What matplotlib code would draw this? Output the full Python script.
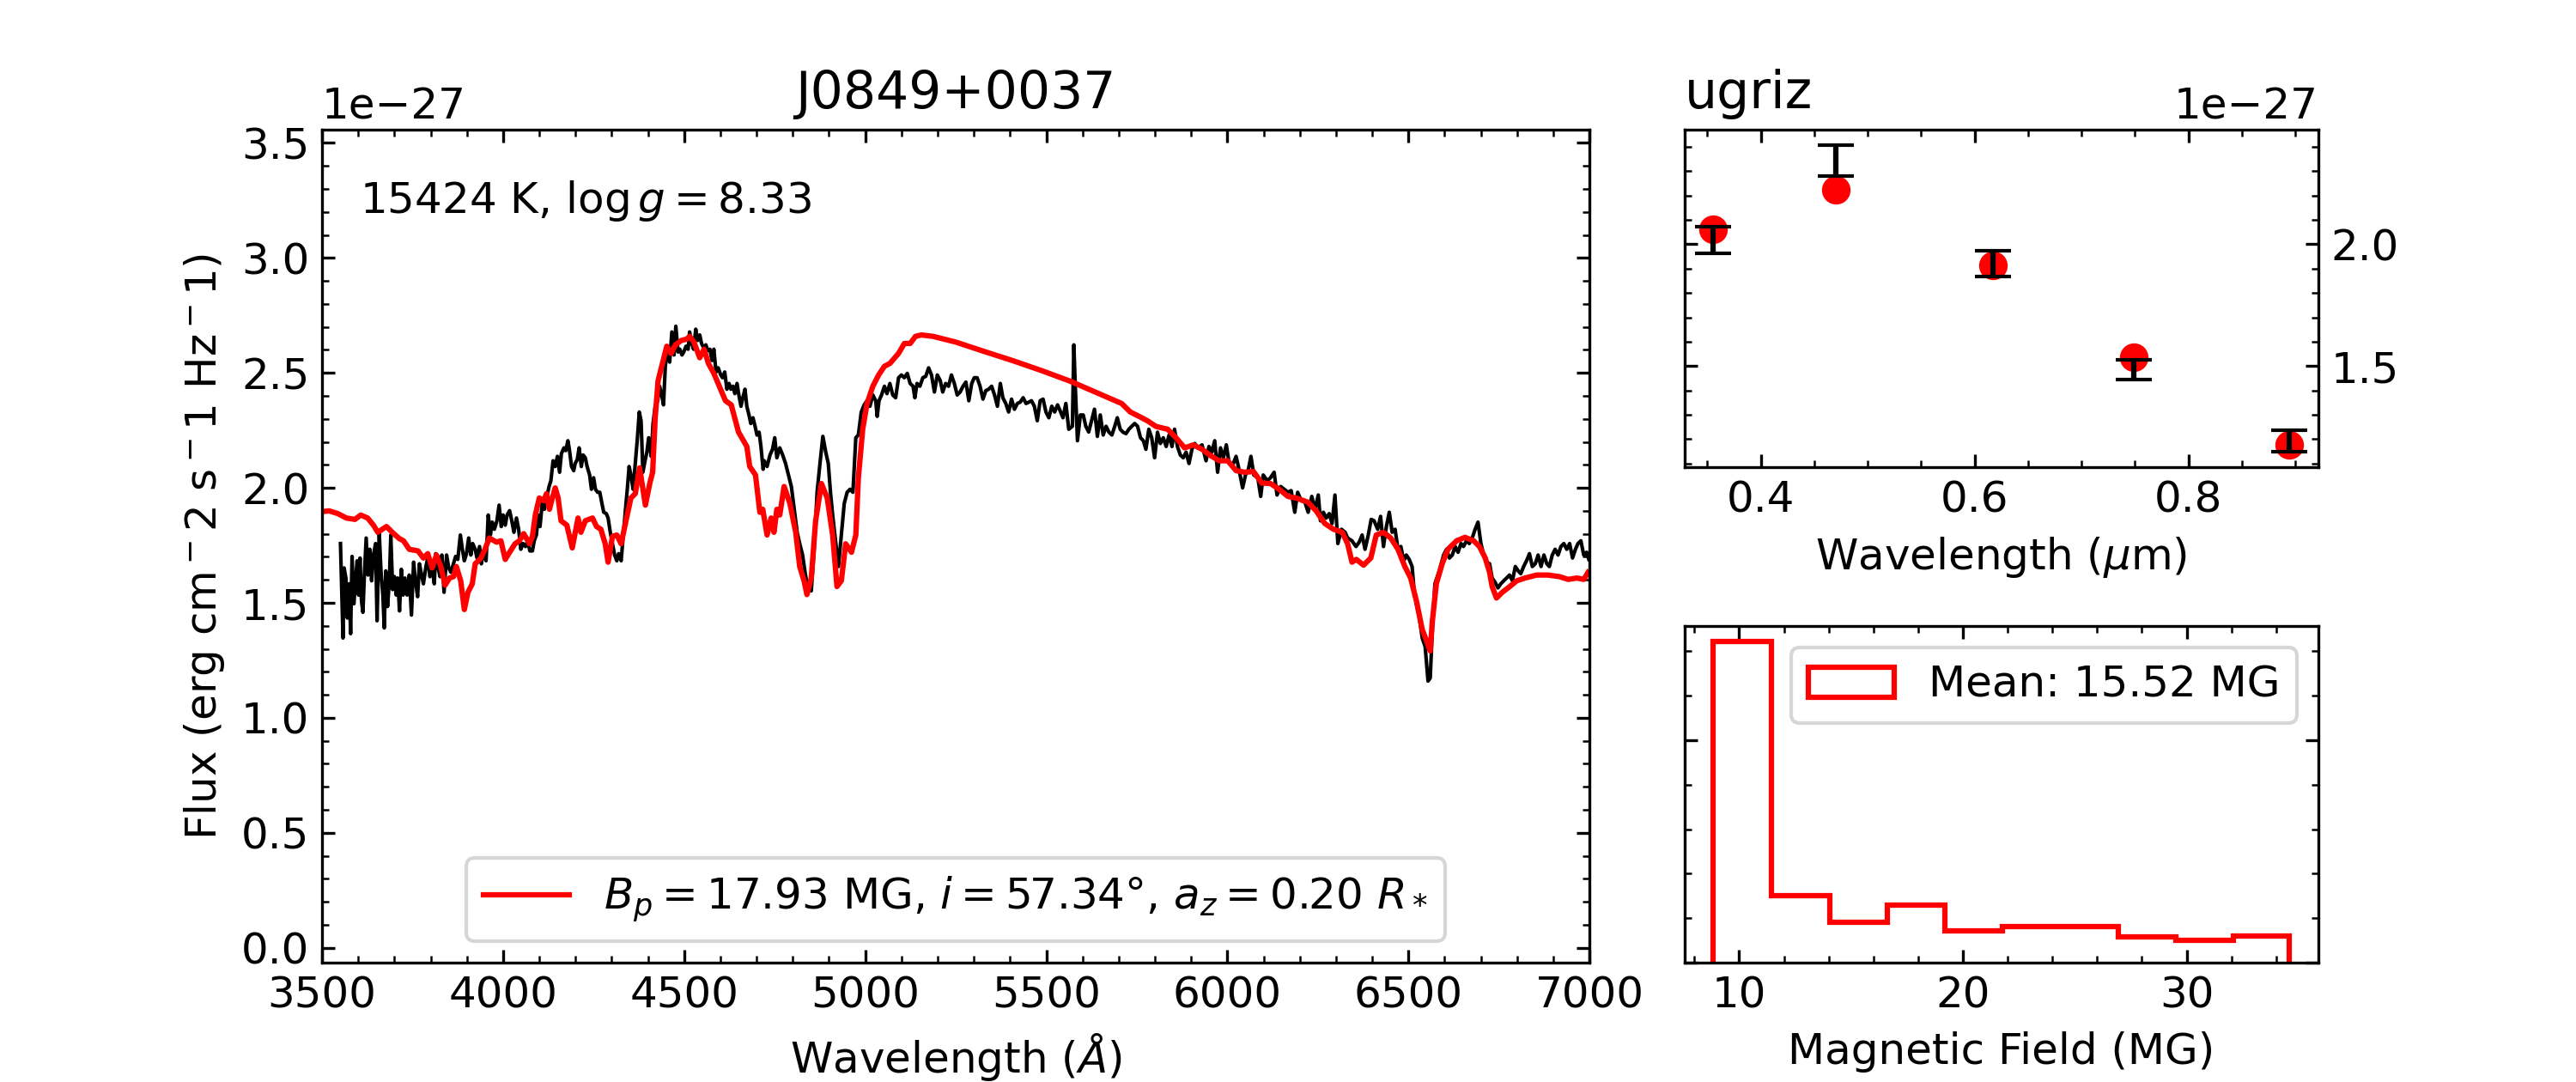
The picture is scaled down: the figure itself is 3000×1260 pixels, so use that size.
import numpy as np
import matplotlib
matplotlib.use('Agg')
import matplotlib.pyplot as plt

plt.rcParams['font.size'] = 12
plt.rcParams['xtick.direction'] = 'in'
plt.rcParams['ytick.direction'] = 'in'
plt.rcParams['xtick.top'] = True
plt.rcParams['ytick.right'] = True
plt.rcParams['xtick.minor.visible'] = True
plt.rcParams['ytick.minor.visible'] = True

UNIT = 1e-27

# observed spectrum (wavelength in A, flux in 1e-27 erg/cm2/s/Hz)
wave_obs = [
    3551, 3558, 3561, 3566, 3570, 3575, 3579, 3583, 3588, 3592, 3597, 3601, 3605, 3609, 3613, 3617,
    3622, 3627, 3632, 3637, 3642, 3648, 3652, 3658, 3663, 3668, 3672, 3676, 3681, 3686, 3690, 3695,
    3700, 3705, 3709, 3714, 3719, 3724, 3729, 3735, 3741, 3747, 3753, 3758, 3764, 3769, 3775, 3780,
    3787, 3792, 3798, 3804, 3810, 3814, 3820, 3826, 3831, 3837, 3844, 3850, 3856, 3863, 3869, 3875,
    3882, 3887, 3893, 3899, 3905, 3911, 3916, 3923, 3928, 3935, 3940, 3946, 3953, 3959, 3965, 3970,
    3976, 3983, 3989, 3995, 4000, 4006, 4011, 4018, 4024, 4030, 4037, 4043, 4049, 4055, 4062, 4068,
    4074, 4081, 4086, 4092, 4097, 4102, 4108, 4114, 4120, 4127, 4132, 4138, 4144, 4150, 4156, 4161,
    4168, 4173, 4179, 4183, 4189, 4195, 4199, 4205, 4210, 4216, 4221, 4227, 4232, 4239, 4244, 4250,
    4255, 4261, 4267, 4273, 4278, 4285, 4290, 4296, 4302, 4308, 4314, 4319, 4326, 4332, 4338, 4343,
    4348, 4353, 4359, 4365, 4371, 4376, 4381, 4386, 4392, 4397, 4402, 4409, 4414, 4420, 4427, 4432,
    4438, 4443, 4448, 4454, 4460, 4466, 4472, 4477, 4483, 4488, 4494, 4499, 4505, 4511, 4515, 4521,
    4526, 4532, 4537, 4543, 4548, 4554, 4560, 4565, 4571, 4577, 4582, 4588, 4594, 4601, 4606, 4612,
    4618, 4624, 4629, 4635, 4640, 4646, 4651, 4657, 4662, 4668, 4673, 4679, 4684, 4690, 4696, 4701,
    4707, 4712, 4718, 4721, 4729, 4737, 4744, 4750, 4756, 4764, 4772, 4780, 4788, 4796, 4804, 4812,
    4819, 4827, 4835, 4843, 4851, 4859, 4867, 4875, 4883, 4891, 4898, 4904, 4910, 4918, 4926, 4934,
    4942, 4950, 4958, 4966, 4974, 4981, 4989, 4997, 5005, 5013, 5021, 5029, 5033, 5038, 5045, 5053,
    5060, 5068, 5076, 5084, 5092, 5100, 5108, 5116, 5124, 5132, 5137, 5143, 5151, 5159, 5167, 5175,
    5183, 5191, 5199, 5207, 5214, 5222, 5230, 5238, 5246, 5254, 5262, 5270, 5278, 5286, 5294, 5301,
    5309, 5317, 5325, 5333, 5341, 5349, 5357, 5365, 5373, 5380, 5388, 5396, 5404, 5412, 5420, 5428,
    5436, 5444, 5452, 5459, 5467, 5475, 5483, 5491, 5499, 5507, 5515, 5523, 5531, 5538, 5546, 5554,
    5562, 5572, 5576, 5580, 5586, 5594, 5602, 5609, 5617, 5625, 5633, 5641, 5649, 5657, 5665, 5673,
    5681, 5689, 5696, 5704, 5712, 5720, 5728, 5736, 5744, 5752, 5760, 5768, 5775, 5783, 5791, 5799,
    5807, 5815, 5823, 5831, 5839, 5847, 5854, 5862, 5870, 5878, 5886, 5894, 5902, 5910, 5918, 5930,
    5941, 5949, 5957, 5965, 5973, 5981, 5989, 5997, 6005, 6013, 6024, 6032, 6042, 6050, 6058, 6065,
    6073, 6084, 6092, 6099, 6110, 6119, 6129, 6137, 6147, 6157, 6167, 6176, 6186, 6194, 6204, 6214,
    6223, 6233, 6242, 6251, 6257, 6265, 6273, 6281, 6289, 6297, 6305, 6315, 6325, 6332, 6344, 6355,
    6364, 6372, 6380, 6389, 6397, 6405, 6415, 6423, 6431, 6439, 6447, 6455, 6463, 6471, 6479, 6487,
    6494, 6502, 6510, 6516, 6522, 6530, 6538, 6546, 6554, 6560, 6566, 6573, 6585, 6597, 6605, 6613,
    6621, 6629, 6637, 6645, 6652, 6660, 6668, 6676, 6684, 6692, 6700, 6708, 6716, 6724, 6731, 6739,
    6747, 6755, 6763, 6771, 6779, 6787, 6795, 6803, 6810, 6818, 6826, 6834, 6842, 6850, 6858, 6866,
    6874, 6882, 6889, 6897, 6905, 6913, 6921, 6929, 6937, 6945, 6953, 6961, 6968, 6976, 6984, 6992,
    6998,
]
flux_obs = [
    1.758, 1.347, 1.652, 1.608, 1.434, 1.583, 1.366, 1.702, 1.496, 1.583, 1.683, 1.534, 1.695, 1.509, 1.459, 1.621,
    1.782, 1.621, 1.733, 1.596, 1.708, 1.758, 1.422, 1.807, 1.633, 1.534, 1.391, 1.639, 1.484, 1.596, 1.795, 1.558,
    1.614, 1.534, 1.608, 1.465, 1.646, 1.534, 1.608, 1.534, 1.621, 1.447, 1.677, 1.596, 1.527, 1.670, 1.621, 1.583,
    1.658, 1.695, 1.614, 1.658, 1.583, 1.714, 1.658, 1.614, 1.708, 1.546, 1.708, 1.652, 1.633, 1.670, 1.702, 1.689,
    1.795, 1.739, 1.683, 1.714, 1.782, 1.708, 1.758, 1.733, 1.695, 1.745, 1.670, 1.726, 1.683, 1.882, 1.795, 1.851,
    1.820, 1.857, 1.925, 1.832, 1.882, 1.838, 1.882, 1.901, 1.857, 1.807, 1.869, 1.820, 1.733, 1.758, 1.745, 1.770,
    1.726, 1.726, 1.770, 1.795, 1.882, 1.832, 1.932, 1.907, 1.956, 2.006, 2.031, 2.118, 2.093, 2.137, 2.068, 2.149,
    2.174, 2.162, 2.205, 2.168, 2.093, 2.075, 2.106, 2.124, 2.174, 2.093, 2.143, 2.131, 2.093, 2.056, 1.994, 2.044,
    1.994, 1.981, 1.981, 1.932, 1.894, 1.888, 1.869, 1.807, 1.758, 1.708, 1.683, 1.714, 1.683, 1.795, 1.907, 1.994,
    2.093, 2.056, 1.994, 2.106, 2.218, 2.330, 2.292, 2.068, 2.118, 2.155, 2.218, 2.137, 2.280, 2.355, 2.379, 2.442,
    2.404, 2.361, 2.529, 2.603, 2.547, 2.678, 2.578, 2.703, 2.591, 2.603, 2.578, 2.591, 2.616, 2.603, 2.678, 2.628,
    2.603, 2.690, 2.641, 2.665, 2.628, 2.609, 2.622, 2.597, 2.603, 2.554, 2.603, 2.504, 2.522, 2.491, 2.479, 2.504,
    2.429, 2.454, 2.429, 2.442, 2.410, 2.454, 2.404, 2.355, 2.392, 2.429, 2.355, 2.317, 2.280, 2.305, 2.267, 2.230,
    2.242, 2.180, 2.081, 2.118, 2.093, 2.143, 2.168, 2.218, 2.131, 2.174, 2.143, 2.106, 2.056, 2.006, 1.907, 1.807,
    1.758, 1.708, 1.621, 1.558, 1.552, 1.733, 1.981, 2.106, 2.224, 2.155, 2.106, 1.981, 1.882, 1.770, 1.658, 1.795,
    1.932, 1.981, 1.994, 1.981, 2.218, 2.230, 2.330, 2.361, 2.379, 2.355, 2.404, 2.379, 2.311, 2.379, 2.404, 2.442,
    2.410, 2.454, 2.404, 2.392, 2.479, 2.491, 2.479, 2.498, 2.454, 2.442, 2.392, 2.454, 2.442, 2.479, 2.485, 2.522,
    2.491, 2.417, 2.491, 2.467, 2.417, 2.454, 2.442, 2.491, 2.454, 2.404, 2.417, 2.442, 2.460, 2.379, 2.454, 2.479,
    2.479, 2.442, 2.386, 2.423, 2.429, 2.442, 2.404, 2.355, 2.454, 2.392, 2.367, 2.330, 2.386, 2.342, 2.367, 2.373,
    2.392, 2.367, 2.373, 2.379, 2.355, 2.292, 2.379, 2.386, 2.330, 2.305, 2.355, 2.330, 2.361, 2.336, 2.305, 2.367,
    2.255, 2.268, 2.622, 2.442, 2.205, 2.317, 2.317, 2.268, 2.243, 2.292, 2.342, 2.224, 2.317, 2.230, 2.268, 2.242,
    2.230, 2.268, 2.305, 2.255, 2.242, 2.236, 2.255, 2.268, 2.280, 2.268, 2.218, 2.205, 2.168, 2.255, 2.218, 2.131,
    2.242, 2.193, 2.218, 2.180, 2.230, 2.180, 2.255, 2.180, 2.143, 2.131, 2.155, 2.106, 2.168, 2.193, 2.174, 2.187,
    2.118, 2.180, 2.155, 2.205, 2.068, 2.174, 2.131, 2.187, 2.106, 2.093, 2.137, 2.081, 2.000, 2.056, 2.081, 2.137,
    2.056, 2.044, 1.963, 2.056, 2.031, 2.044, 2.068, 1.969, 2.006, 1.994, 1.981, 1.988, 1.894, 1.981, 1.944, 1.938,
    1.894, 1.963, 1.907, 1.969, 1.857, 1.894, 1.869, 1.888, 1.845, 1.969, 1.758, 1.820, 1.807, 1.782, 1.770, 1.745,
    1.764, 1.795, 1.733, 1.795, 1.863, 1.857, 1.820, 1.876, 1.745, 1.832, 1.894, 1.807, 1.820, 1.733, 1.745, 1.683,
    1.708, 1.689, 1.658, 1.546, 1.496, 1.434, 1.347, 1.310, 1.160, 1.173, 1.384, 1.583, 1.639, 1.708, 1.733, 1.695,
    1.708, 1.745, 1.720, 1.758, 1.745, 1.770, 1.758, 1.782, 1.820, 1.851, 1.758, 1.708, 1.677, 1.670, 1.608, 1.590,
    1.565, 1.583, 1.596, 1.608, 1.621, 1.596, 1.658, 1.639, 1.627, 1.658, 1.683, 1.714, 1.658, 1.670, 1.708, 1.658,
    1.708, 1.670, 1.658, 1.708, 1.733, 1.708, 1.745, 1.758, 1.733, 1.758, 1.695, 1.733, 1.758, 1.770, 1.708, 1.720,
    1.689,
]

# best-fit magnetic model
wave_mod = [
    3500, 3520, 3544, 3567, 3591, 3607, 3626, 3642, 3654, 3678, 3694, 3713, 3725, 3741, 3765, 3780,
    3792, 3804, 3816, 3828, 3840, 3852, 3863, 3871, 3883, 3893, 3903, 3915, 3923, 3939, 3950, 3962,
    3982, 3994, 4006, 4018, 4033, 4045, 4057, 4073, 4081, 4089, 4100, 4112, 4120, 4128, 4136, 4144,
    4152, 4160, 4176, 4191, 4207, 4215, 4227, 4247, 4258, 4270, 4282, 4290, 4302, 4314, 4326, 4341,
    4353, 4365, 4377, 4385, 4393, 4405, 4413, 4420, 4428, 4440, 4452, 4464, 4476, 4492, 4507, 4515,
    4527, 4543, 4555, 4567, 4582, 4602, 4614, 4630, 4650, 4673, 4681, 4697, 4709, 4717, 4729, 4740,
    4748, 4756, 4764, 4776, 4792, 4808, 4819, 4831, 4839, 4851, 4863, 4879, 4895, 4910, 4922, 4934,
    4946, 4962, 4974, 4981, 4993, 5005, 5021, 5037, 5053, 5068, 5092, 5108, 5124, 5139, 5155, 5187,
    5250, 5329, 5408, 5487, 5566, 5645, 5708, 5732, 5756, 5779, 5803, 5835, 5858, 5882, 5906, 5930,
    5953, 5977, 6001, 6024, 6048, 6072, 6095, 6119, 6143, 6167, 6190, 6222, 6245, 6269, 6293, 6317,
    6332, 6344, 6356, 6376, 6396, 6411, 6431, 6451, 6471, 6490, 6506, 6522, 6538, 6550, 6560, 6566,
    6577, 6593, 6609, 6633, 6656, 6680, 6696, 6712, 6724, 6731, 6743, 6759, 6775, 6799, 6822, 6854,
    6885, 6917, 6941, 6965, 6984, 6996,
]
flux_mod = [
    1.897, 1.900, 1.888, 1.869, 1.863, 1.882, 1.869, 1.838, 1.807, 1.832, 1.807, 1.780, 1.770, 1.733, 1.726, 1.695,
    1.714, 1.652, 1.708, 1.658, 1.577, 1.608, 1.614, 1.658, 1.596, 1.471, 1.546, 1.583, 1.670, 1.695, 1.733, 1.782,
    1.764, 1.770, 1.689, 1.720, 1.757, 1.770, 1.801, 1.757, 1.789, 1.882, 1.956, 1.944, 1.975, 1.907, 1.956, 2.000,
    1.956, 1.857, 1.838, 1.739, 1.869, 1.807, 1.857, 1.869, 1.832, 1.820, 1.757, 1.677, 1.789, 1.795, 1.757, 1.869,
    1.956, 1.975, 2.087, 2.006, 1.925, 2.019, 2.068, 2.305, 2.466, 2.541, 2.616, 2.585, 2.622, 2.641, 2.647, 2.659,
    2.634, 2.566, 2.603, 2.541, 2.498, 2.423, 2.379, 2.361, 2.243, 2.180, 2.093, 2.056, 1.894, 1.907, 1.795, 1.869,
    1.807, 1.907, 1.882, 2.006, 1.932, 1.807, 1.658, 1.596, 1.536, 1.608, 1.857, 2.019, 1.956, 1.795, 1.571, 1.596,
    1.757, 1.720, 1.795, 2.044, 2.255, 2.367, 2.442, 2.491, 2.529, 2.541, 2.585, 2.628, 2.628, 2.659, 2.665, 2.659,
    2.634, 2.593, 2.553, 2.510, 2.464, 2.410, 2.367, 2.330, 2.311, 2.292, 2.267, 2.255, 2.218, 2.174, 2.187, 2.168,
    2.141, 2.118, 2.118, 2.075, 2.068, 2.071, 2.021, 2.019, 1.994, 1.963, 1.956, 1.938, 1.900, 1.845, 1.820, 1.807,
    1.757, 1.677, 1.689, 1.664, 1.695, 1.795, 1.807, 1.782, 1.733, 1.658, 1.608, 1.508, 1.384, 1.334, 1.291, 1.422,
    1.583, 1.670, 1.733, 1.770, 1.785, 1.770, 1.745, 1.695, 1.633, 1.571, 1.521, 1.546, 1.565, 1.596, 1.608, 1.621,
    1.621, 1.614, 1.602, 1.608, 1.602, 1.633,
]

# ugriz photometry (pivot wavelengths in micron)
phot_wave = [0.3557, 0.4702, 0.6175, 0.7490, 0.8946]
phot_obs = [2.018, 2.343, 1.919, 1.486, 1.192]
phot_err = [0.056, 0.064, 0.053, 0.041, 0.044]
phot_mod = [2.062, 2.225, 1.914, 1.537, 1.178]

# posterior of B_p
bin_edges = [8.85, 11.46, 14.06, 16.63, 19.19, 21.77, 24.35, 26.94, 29.52, 32.08, 34.60]
bin_counts = [1440, 302, 184, 260, 143, 164, 165, 118, 102, 122]

fig = plt.figure(figsize=(10, 4.2))
gs = fig.add_gridspec(2, 2, width_ratios=[2, 1], wspace=0.1, hspace=0.47)
ax = fig.add_subplot(gs[:, 0])
ax2 = fig.add_subplot(gs[0, 1])
ax3 = fig.add_subplot(gs[1, 1])

# spectrum
ax.plot(wave_obs, np.array(flux_obs) * UNIT, color='k', lw=1)
ax.plot(wave_mod, np.array(flux_mod) * UNIT, color='red', lw=1.5,
        label=r'$B_p = 17.93$ MG, $i = 57.34°$, $a_z = 0.20\ R_*$')
ax.set_xlim(3500, 7000)
ax.set_ylim(-0.066 * UNIT, 3.557 * UNIT)
ax.set_xlabel(r'Wavelength ($\AA$)')
ax.set_ylabel(r'Flux (erg cm$^-2$ s$^-1$ Hz$^-1$)')
ax.set_title('J0849+0037')
ax.text(0.03, 0.9, r'15424 K, $\log g = 8.33$', transform=ax.transAxes)
ax.legend(loc='lower center')

# photometry
ax2.plot(phot_wave, np.array(phot_mod) * UNIT, 'o', color='red', ms=7)
ax2.errorbar(phot_wave, np.array(phot_obs) * UNIT, yerr=np.array(phot_err) * UNIT,
             fmt='none', ecolor='k', capsize=5)
ax2.tick_params(axis='y', which='both', labelleft=False, labelright=True)
ax2.yaxis.set_offset_position('right')
ax2.set_xlabel(r'Wavelength ($\mu$m)')
ax2.set_title('ugriz', loc='left')

# field distribution
centers = [(bin_edges[i] + bin_edges[i + 1]) / 2 for i in range(len(bin_counts))]
ax3.hist(centers, bins=bin_edges, weights=bin_counts, histtype='step', color='red',
         lw=1.5, label='Mean: 15.52 MG')
ax3.tick_params(axis='y', which='both', labelleft=False)
ax3.set_xlabel('Magnetic Field (MG)')
ax3.legend(loc='upper right')

fig.savefig('out.png', dpi=300)
